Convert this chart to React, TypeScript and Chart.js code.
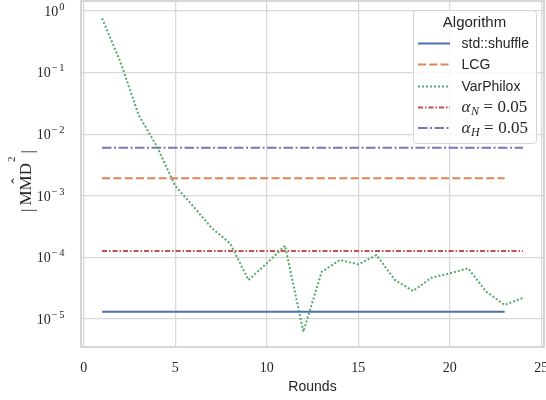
import React, { useEffect, useRef } from "react";
import { Chart, registerables } from "chart.js";

Chart.register(...registerables);

// ---------------- data ----------------
const rounds = [1, 2, 3, 4, 5, 6, 7, 8, 9, 10, 11, 12, 13, 14, 15, 16, 17, 18, 19, 20, 21, 22, 23, 24];
const varPhiloxValues = [
  0.76, 0.15, 0.0205, 0.0063, 0.00144, 0.000665, 0.000297, 0.000169, 0.000043, 0.00008, 0.000155, 0.0000062,
  0.000058, 0.000091, 0.000077, 0.000109, 0.000043, 0.0000285, 0.0000468, 0.000055, 0.0000665, 0.0000277,
  0.0000169, 0.000022,
];
const shuffleRounds = [1, 23];
const shuffleValue = 1.31e-5;
const lcgRounds = [1, 23];
const lcgValue = 1.92e-3;
const alphaNRounds = [1, 24];
const alphaNValue = 1.27e-4;
const alphaHRounds = [1, 24];
const alphaHValue = 6.04e-3;

const seriesLabels = ["std::shuffle", "LCG", "VarPhilox", "α_N = 0.05", "α_H = 0.05"];
const xTickValues = [0, 5, 10, 15, 20, 25];
const yExponents = [0, -1, -2, -3, -4, -5];
const legendTitle = "Algorithm";
const xTitle = "Rounds";

// ---------------- styles ----------------
const TEXT = "#262626";
const SERIF = '"Liberation Serif", "DejaVu Serif", serif';
const SANS = '"Liberation Sans", Arial, sans-serif';

const flat = (rs: number[], v: number) => rs.map((r) => ({ x: r, y: v }));

const decorPlugin = {
  id: "decor",
  afterDraw(chart: any) {
    const ctx: CanvasRenderingContext2D = chart.ctx;
    const { left, right, top, bottom } = chart.chartArea;

    // spines
    ctx.save();
    ctx.strokeStyle = "#cccccc";
    ctx.lineWidth = 1.6;
    ctx.setLineDash([]);
    ctx.strokeRect(left, top, right - left, bottom - top);
    ctx.restore();

    // y tick labels 10^e
    const ys = chart.scales.y;
    ctx.save();
    ctx.fillStyle = TEXT;
    ctx.textBaseline = "alphabetic";
    ctx.textAlign = "left";
    const rightEdge = 64.5;
    for (const e of yExponents) {
      const y = ys.getPixelForValue(Math.pow(10, e));
      const supFont = "10.5px " + SERIF;
      const baseFont = "14px " + SERIF;
      ctx.font = supFont;
      const supParts: string[] = e === 0 ? ["0"] : ["−", String(Math.abs(e))];
      const widths = supParts.map((p) => ctx.measureText(p).width);
      const gap = 1.5;
      const supW = widths.reduce((a, b) => a + b, 0) + gap * (supParts.length - 1);
      let sx = rightEdge - supW;
      ctx.font = baseFont;
      const bw = ctx.measureText("10").width;
      ctx.fillText("10", sx - bw - 1, y + 4.8);
      ctx.font = supFont;
      supParts.forEach((p, i) => {
        ctx.fillText(p, sx, y - 1.2);
        sx += widths[i] + gap;
      });
    }
    ctx.restore();

    // y axis title |MMD^2| with hat
    ctx.save();
    ctx.translate(0, 181);
    ctx.rotate(-Math.PI / 2);
    ctx.fillStyle = TEXT;
    ctx.textBaseline = "alphabetic";
    ctx.textAlign = "left";
    const mainFont = "17px " + SERIF;
    const supFont2 = "11px " + SERIF;
    ctx.font = mainFont;
    const barW = ctx.measureText("|").width;
    const mmdW = ctx.measureText("MMD").width;
    ctx.font = supFont2;
    const twoW = ctx.measureText("2").width;
    const g = 3;
    const total = barW + g + mmdW + 1 + twoW + g + barW;
    let rx = -total / 2;
    const base = 31;
    ctx.font = mainFont;
    ctx.fillText("|", rx, base + 2);
    rx += barW + g;
    const mmdStart = rx;
    ctx.fillText("MMD", rx, base);
    rx += mmdW + 1;
    ctx.font = supFont2;
    ctx.fillText("2", rx, base - 16);
    rx += twoW + g;
    ctx.font = mainFont;
    ctx.fillText("|", rx, base + 2);
    // hat
    const hm = ctx.measureText("ˆ");
    const hatW = hm.width;
    const hatBottom = 13.5;
    const hatBase = hatBottom - hm.actualBoundingBoxDescent;
    ctx.fillText("ˆ", mmdStart + mmdW / 2 + 3 - hatW / 2, hatBase);
    ctx.restore();

    // legend
    ctx.save();
    const lx = 413, ly = 10, lw = 123, lh = 133;
    ctx.beginPath();
    (ctx as any).roundRect(lx + 0.5, ly + 0.5, lw, lh, 3);
    ctx.fillStyle = "rgba(255,255,255,0.8)";
    ctx.fill();
    ctx.strokeStyle = "#d4d4d4";
    ctx.lineWidth = 1;
    ctx.stroke();

    ctx.fillStyle = TEXT;
    ctx.textAlign = "center";
    ctx.textBaseline = "middle";
    ctx.font = "15px " + SANS;
    ctx.fillText(legendTitle, 474.5, 22.5);

    const rowY = [43.5, 64.5, 86.5, 107.5, 128];
    chart.data.datasets.forEach((ds: any, i: number) => {
      const y = rowY[i];
      ctx.save();
      ctx.strokeStyle = ds.borderColor;
      ctx.lineWidth = ds.borderWidth;
      ctx.setLineDash(ds.borderDash || []);
      ctx.lineDashOffset = 0;
      ctx.lineCap = "butt";
      ctx.beginPath();
      ctx.moveTo(418, y);
      ctx.lineTo(450, y);
      ctx.stroke();
      ctx.restore();

      const label: string = ds.label;
      const m = label.match(/^α_(\w) = (.*)$/);
      ctx.fillStyle = TEXT;
      ctx.textAlign = "left";
      ctx.textBaseline = "alphabetic";
      let tx = 461.5;
      if (m) {
        const bl = y + 4.5;
        ctx.font = "italic 17px " + SERIF;
        ctx.fillText("α", tx, bl);
        tx += ctx.measureText("α").width + 0.5;
        ctx.font = "italic 12px " + SERIF;
        ctx.fillText(m[1], tx, bl + 3);
        tx += ctx.measureText(m[1]).width + 4.5;
        ctx.font = "17px " + SERIF;
        ctx.fillText("=", tx, bl);
        tx += ctx.measureText("=").width + 4.5;
        ctx.fillText(m[2], tx, bl);
      } else {
        ctx.font = "14px " + SANS;
        ctx.textBaseline = "middle";
        ctx.fillText(label, tx, y + 0.5);
      }
    });
    ctx.restore();
  },
};

export default function App() {
  const ref = useRef<HTMLCanvasElement | null>(null);

  useEffect(() => {
    document.body.style.margin = "0";
    const canvas = ref.current;
    if (!canvas) return;
    const chart = new Chart(canvas, {
      type: "line",
      data: {
        datasets: [
          {
            label: seriesLabels[0],
            data: flat(shuffleRounds, shuffleValue),
            borderColor: "#4C72B0",
            borderWidth: 2,
            borderDash: [],
          },
          {
            label: seriesLabels[1],
            data: flat(lcgRounds, lcgValue),
            borderColor: "#DD8452",
            borderWidth: 2,
            borderDash: [8, 3.3],
          },
          {
            label: seriesLabels[2],
            data: rounds.map((r, i) => ({ x: r, y: varPhiloxValues[i] })),
            borderColor: "#55A868",
            borderWidth: 2,
            borderDash: [2, 2],
          },
          {
            label: seriesLabels[3],
            data: flat(alphaNRounds, alphaNValue),
            borderColor: "#C44E52",
            borderWidth: 2,
            borderDash: [5, 2, 1.5, 2],
          },
          {
            label: seriesLabels[4],
            data: flat(alphaHRounds, alphaHValue),
            borderColor: "#8172B3",
            borderWidth: 2,
            borderDash: [9.5, 2.5, 2, 2.5],
          },
        ] as any,
      },
      options: {
        animation: false,
        responsive: false,
        devicePixelRatio: 1,
        layout: { padding: { top: 1, right: 2, left: 0, bottom: 0 } },
        elements: {
          point: { radius: 0, hoverRadius: 0 },
          line: { tension: 0, borderCapStyle: "butt", fill: false },
        },
        plugins: {
          legend: { display: false },
          tooltip: { enabled: false },
          title: { display: false },
        },
        scales: {
          x: {
            type: "linear",
            min: -0.15,
            max: 25.15,
            afterBuildTicks: (s: any) => {
              s.ticks = xTickValues.map((v) => ({ value: v }));
            },
            afterFit: (s: any) => {
              s.height = 53;
              s.paddingLeft = 0;
              s.paddingRight = 0;
            },
            grid: { color: "#d9d9d9", lineWidth: 1.3, drawTicks: false },
            border: { display: false },
            ticks: {
              autoSkip: false,
              maxRotation: 0,
              padding: 12.5,
              color: TEXT,
              font: { family: SERIF, size: 14 },
              callback: (v: any) => String(v),
            },
            title: {
              display: true,
              text: xTitle,
              color: TEXT,
              font: { family: SANS, size: 14 },
              padding: { top: 0, bottom: 4.5 },
            },
          },
          y: {
            type: "logarithmic",
            min: Math.pow(10, -5.455),
            max: Math.pow(10, 0.162),
            afterBuildTicks: (s: any) => {
              s.ticks = yExponents.map((e) => ({ value: Math.pow(10, e), major: true }));
            },
            afterFit: (s: any) => {
              s.width = 81;
              s.paddingTop = 0;
              s.paddingBottom = 0;
            },
            grid: { color: "#d9d9d9", lineWidth: 1.3, drawTicks: false },
            border: { display: false },
            ticks: { display: false },
          },
        },
      } as any,
      plugins: [decorPlugin],
    });
    return () => chart.destroy();
  }, []);

  return (
    <div style={{ position: "absolute", left: 0, top: 0, width: 546, height: 400 }}>
      <canvas ref={ref} width={546} height={400} style={{ display: "block" }} />
    </div>
  );
}
